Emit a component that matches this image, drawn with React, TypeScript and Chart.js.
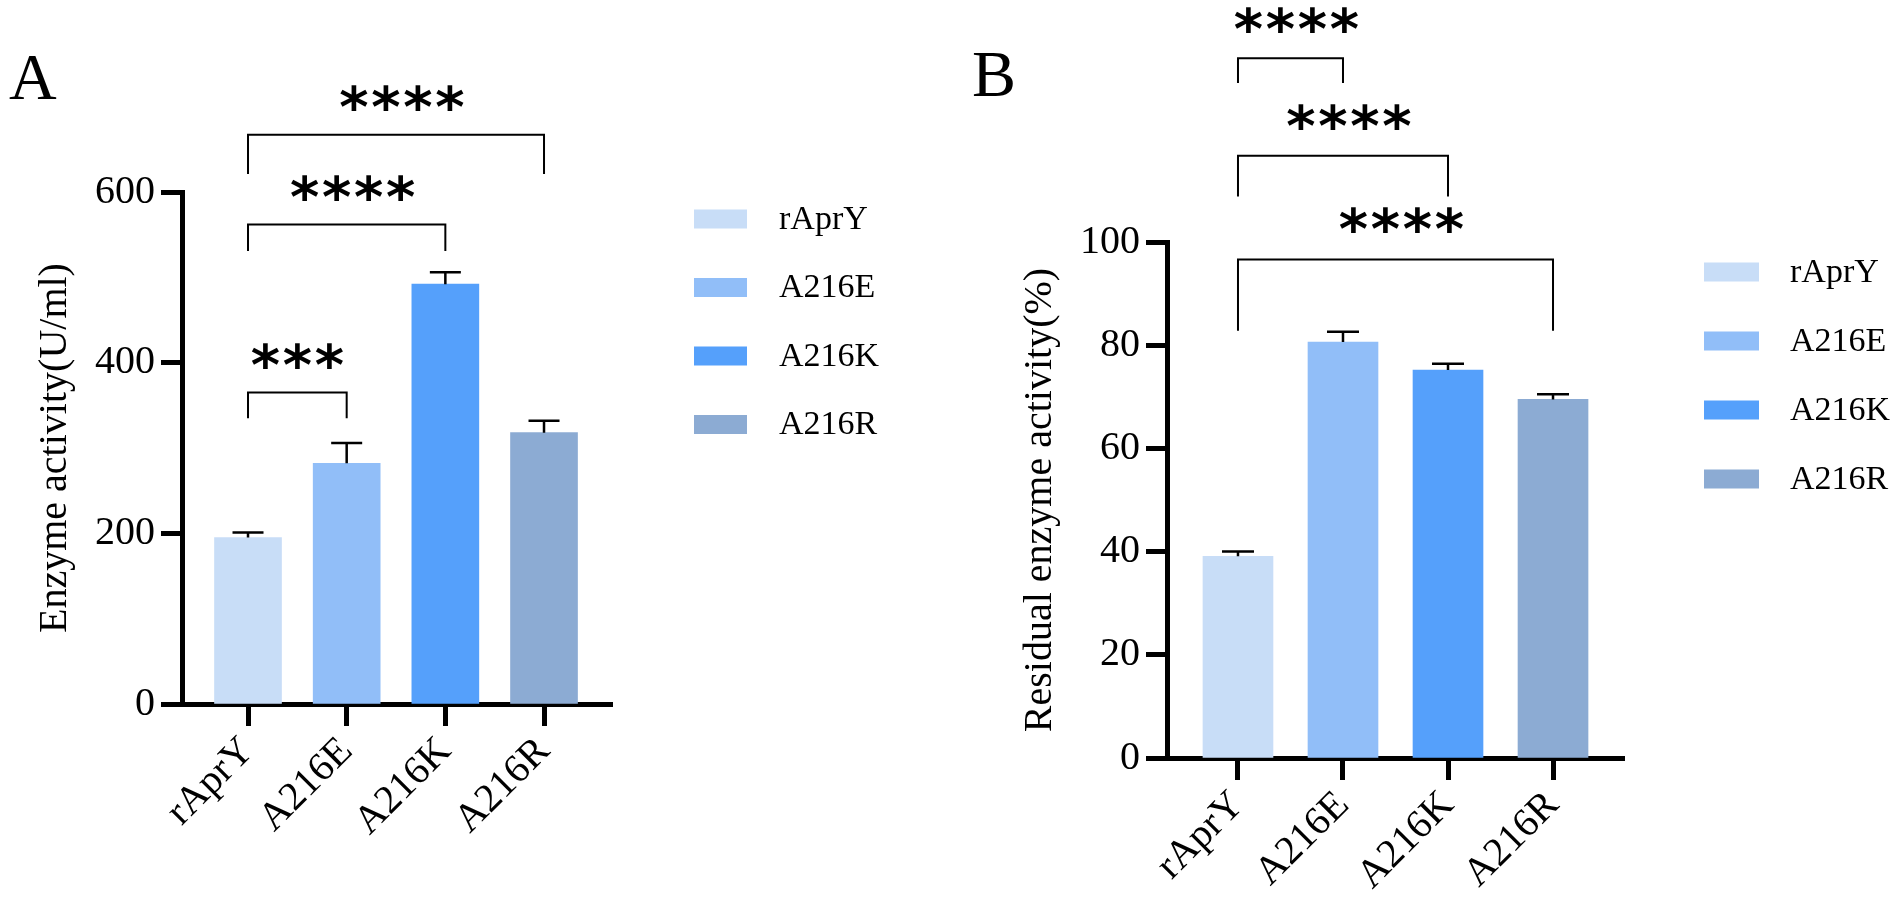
import { useEffect, useRef } from 'react'
import { Chart, registerables } from 'chart.js'

Chart.register(...registerables)

// ---- data ----
const categories = ['rAprY', 'A216E', 'A216K', 'A216R']
const barColors = ['#c8ddf7', '#91bef8', '#55a0fb', '#8cabd3']

const activity = [195, 282, 492, 318]
const activityErr = [6, 24, 14, 14]
const activityTicks = [0, 200, 400, 600]

const residual = [39.1, 80.6, 75.2, 69.5]
const residualErr = [0.9, 2.0, 1.2, 1.0]
const residualTicks = [0, 20, 40, 60, 80, 100]

const comparisonsA = [
  { from: 0, to: 1, label: '***' },
  { from: 0, to: 2, label: '****' },
  { from: 0, to: 3, label: '****' },
]
const comparisonsB = [
  { from: 0, to: 1, label: '****' },
  { from: 0, to: 2, label: '****' },
  { from: 0, to: 3, label: '****' },
]

const SERIF = '"Liberation Serif", "Times New Roman", serif'
const W = 951
const H = 914

interface PanelProps {
  letter: string
  letterX: number
  letterY: number
  values: number[]
  errors: number[]
  ticks: number[]
  yTitle: string
  titleOffset: number
  area: { left: number; top: number; right: number; bottom: number }
  xMin: number
  xMax: number
  barThickness: number
  capWidth: number
  comparisons: { from: number; to: number; label: string }[]
  // bracket heights in data units: line, leg end, star centre; dx = star shift in px
  levels: { line: number; leg: number; text: number; dx: number }[]
  legend: { boxX: number; boxW: number; boxH: number; textX: number; rowY: number; rowGap: number }
}

function Panel(p: PanelProps) {
  const canvasRef = useRef<HTMLCanvasElement>(null)
  const chartRef = useRef<Chart | null>(null)

  useEffect(() => {
    if (!canvasRef.current) return
    if (chartRef.current) chartRef.current.destroy()
    const ctx = canvasRef.current.getContext('2d')
    if (!ctx) return

    const decor = {
      id: 'decor',
      afterDatasetsDraw(chart: any) {
        const c = chart.ctx
        const ys = chart.scales.y
        const xs = chart.scales.x
        c.save()
        c.strokeStyle = '#000'
        c.fillStyle = '#000'

        // error bars (upper only)
        c.lineWidth = 2.5
        const meta = chart.getDatasetMeta(0)
        meta.data.forEach((bar: any, i: number) => {
          const top = ys.getPixelForValue(p.values[i])
          const cap = ys.getPixelForValue(p.values[i] + p.errors[i])
          c.beginPath()
          c.moveTo(bar.x, top)
          c.lineTo(bar.x, cap)
          c.moveTo(bar.x - p.capWidth / 2, cap)
          c.lineTo(bar.x + p.capWidth / 2, cap)
          c.stroke()
        })

        // significance brackets
        c.lineWidth = 2
        c.font = 'bold 56px "DejaVu Sans"'
        c.textAlign = 'center'
        c.textBaseline = 'alphabetic'
        const m = c.measureText('*')
        const mid = (m.actualBoundingBoxAscent - m.actualBoundingBoxDescent) / 2
        const pitch = 32
        p.comparisons.forEach((cmp, k) => {
          const lv = p.levels[k]
          const x1 = xs.getPixelForValue(cmp.from)
          const x2 = xs.getPixelForValue(cmp.to)
          const yl = ys.getPixelForValue(lv.line)
          const yg = ys.getPixelForValue(lv.leg)
          c.beginPath()
          c.moveTo(x1, yg)
          c.lineTo(x1, yl)
          c.lineTo(x2, yl)
          c.lineTo(x2, yg)
          c.stroke()
          const cx = (x1 + x2) / 2 + lv.dx
          const cy = ys.getPixelForValue(lv.text) + mid
          const n = cmp.label.length
          for (let j = 0; j < n; j++) {
            c.fillText(cmp.label[j], cx - ((n - 1) / 2) * pitch + j * pitch, cy)
          }
        })

        // legend
        const lg = p.legend
        c.font = `34px ${SERIF}`
        c.textAlign = 'left'
        c.textBaseline = 'middle'
        categories.forEach((name, i) => {
          const cy = lg.rowY + i * lg.rowGap
          c.fillStyle = barColors[i]
          c.fillRect(lg.boxX, cy - lg.boxH / 2, lg.boxW, lg.boxH)
          c.fillStyle = '#000'
          c.fillText(name, lg.textX, cy + 1)
        })

        // panel letter
        c.font = `66px ${SERIF}`
        c.textBaseline = 'alphabetic'
        c.fillText(p.letter, p.letterX, p.letterY)
        c.restore()
      },
    }

    chartRef.current = new Chart(ctx, {
      type: 'bar',
      data: {
        datasets: [
          {
            data: p.values.map((v, i) => ({ x: i, y: v })),
            backgroundColor: barColors,
            borderWidth: 0,
            barThickness: p.barThickness,
          },
        ],
      },
      options: {
        animation: false,
        responsive: true,
        maintainAspectRatio: false,
        layout: {
          padding: { left: 0, top: p.area.top, right: W - p.area.right, bottom: 0 },
        },
        plugins: {
          legend: { display: false },
          tooltip: { enabled: false },
        },
        scales: {
          x: {
            type: 'linear',
            offset: false,
            min: p.xMin,
            max: p.xMax,
            afterFit: (s: any) => {
              s.height = H - p.area.bottom
            },
            afterBuildTicks: (s: any) => {
              s.ticks = categories.map((_, i) => ({ value: i }))
            },
            ticks: {
              autoSkip: false,
              minRotation: 45,
              maxRotation: 45,
              padding: 2,
              color: '#000',
              font: { family: SERIF, size: 40 },
              callback: (v: any) => categories[v],
            },
            grid: {
              offset: false,
              drawOnChartArea: false,
              drawTicks: true,
              tickLength: 22,
              tickWidth: 5,
              tickColor: '#000',
            },
            border: { display: true, width: 5, color: '#000' },
          },
          y: {
            min: 0,
            max: p.ticks[p.ticks.length - 1],
            afterFit: (s: any) => {
              s.width = p.area.left
            },
            afterBuildTicks: (s: any) => {
              s.ticks = p.ticks.map((v) => ({ value: v }))
            },
            ticks: {
              padding: 6,
              color: '#000',
              font: { family: SERIF, size: 40 },
            },
            grid: {
              drawOnChartArea: false,
              drawTicks: true,
              tickLength: 21,
              tickWidth: 5,
              tickColor: '#000',
            },
            border: { display: true, width: 5, color: '#000' },
            title: {
              display: true,
              text: p.yTitle,
              color: '#000',
              font: { family: SERIF, size: 40 },
              padding: { top: p.titleOffset, bottom: 0 },
            },
          },
        },
      },
      plugins: [decor],
    })

    return () => {
      if (chartRef.current) {
        chartRef.current.destroy()
        chartRef.current = null
      }
    }
  }, [])

  return (
    <div style={{ position: 'relative', width: W, height: H }}>
      <canvas ref={canvasRef} />
    </div>
  )
}

export default function App() {
  return (
    <div
      style={{
        position: 'absolute',
        left: 0,
        top: 0,
        width: 1902,
        height: 914,
        display: 'flex',
        background: '#fff',
      }}
    >
      <Panel
        letter="A"
        letterX={9}
        letterY={99}
        values={activity}
        errors={activityErr}
        ticks={activityTicks}
        yTitle="Enzyme activity(U/ml)"
        titleOffset={31}
        area={{ left: 182, top: 192, right: 612, bottom: 704 }}
        xMin={-0.669}
        xMax={3.689}
        barThickness={67}
        capWidth={31}
        comparisons={comparisonsA}
        levels={[
          { line: 365, leg: 335, text: 408, dx: 0 },
          { line: 562, leg: 531, text: 605, dx: 6 },
          { line: 667, leg: 621, text: 710, dx: 6 },
        ]}
        legend={{ boxX: 694, boxW: 53, boxH: 19, textX: 779, rowY: 219, rowGap: 68.5 }}
      />
      <Panel
        letter="B"
        letterX={21}
        letterY={96}
        values={residual}
        errors={residualErr}
        ticks={residualTicks}
        yTitle="Residual enzyme activity(%)"
        titleOffset={65}
        area={{ left: 216, top: 242, right: 673, bottom: 758 }}
        xMin={-0.676}
        xMax={3.676}
        barThickness={70}
        capWidth={32}
        comparisons={comparisonsB}
        levels={[
          { line: 135.6, leg: 130.8, text: 143, dx: 6 },
          { line: 116.7, leg: 108.8, text: 124.2, dx: 6 },
          { line: 96.6, leg: 82.8, text: 104.3, dx: 6 },
        ]}
        legend={{ boxX: 753, boxW: 55, boxH: 19, textX: 839, rowY: 272, rowGap: 69 }}
      />
    </div>
  )
}
